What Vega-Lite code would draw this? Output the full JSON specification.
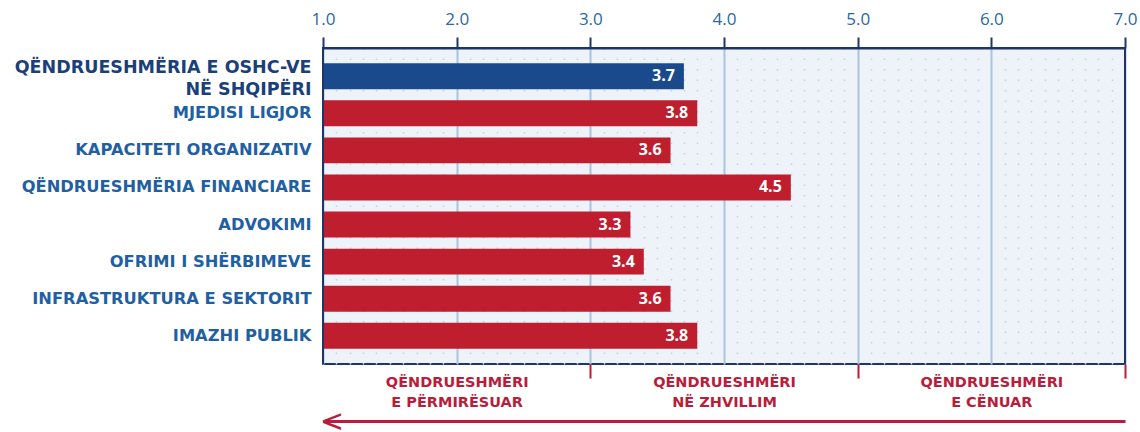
{
  "$schema": "https://vega.github.io/schema/vega-lite/v6.json",
  "width": 802,
  "height": 316,
  "autosize": {"type": "none"},
  "padding": {"left": 323, "top": 48, "right": 15, "bottom": 68},
  "background": "white",
  "config": {
    "view": {"fill": "#edf3f9", "stroke": "#1f3566", "strokeWidth": 2},
    "font": "Open Sans"
  },
  "data": {
    "values": [
      {"label": "QËNDRUESHMËRIA E OSHC-VE|NË SHQIPËRI", "value": 3.7, "type": "total"},
      {"label": "MJEDISI LIGJOR", "value": 3.8, "type": "dim"},
      {"label": "KAPACITETI ORGANIZATIV", "value": 3.6, "type": "dim"},
      {"label": "QËNDRUESHMËRIA FINANCIARE", "value": 4.5, "type": "dim"},
      {"label": "ADVOKIMI", "value": 3.3, "type": "dim"},
      {"label": "OFRIMI I SHËRBIMEVE", "value": 3.4, "type": "dim"},
      {"label": "INFRASTRUKTURA E SEKTORIT", "value": 3.6, "type": "dim"},
      {"label": "IMAZHI PUBLIK", "value": 3.8, "type": "dim"}
    ]
  },
  "resolve": {"axis": {"x": "independent"}},
  "layer": [
    {
      "mark": {"type": "bar"},
      "encoding": {
        "y": {
          "field": "label", "type": "nominal", "sort": null,
          "scale": {"paddingInner": 0.3, "paddingOuter": 0.41},
          "axis": {
            "title": null, "domain": false, "ticks": false, "grid": false,
            "labelPadding": 12, "labelFont": "DejaVu Sans", "labelFontWeight": "bold",
            "labelFontSize": {"condition": {"test": "indexof(datum.value, '|') >= 0", "value": 17.5}, "value": 16.3},
            "labelColor": {"condition": {"test": "indexof(datum.value, '|') >= 0", "value": "#1b3f7a"}, "value": "#1f60a3"},
            "labelOffset": {"condition": {"test": "indexof(datum.value, '|') >= 0", "value": -8}, "value": 0},
            "labelExpr": "split(datum.label, '|')",
            "labelLineHeight": 22, "labelLimit": 330
          }
        },
        "x": {
          "field": "value", "type": "quantitative",
          "scale": {"domain": [1, 7], "nice": false, "zero": false},
          "axis": {
            "orient": "top", "values": [1, 2, 3, 4, 5, 6, 7], "format": ".1f", "title": null,
            "domainColor": "#1f3566", "domainWidth": 2,
            "tickColor": "#1f3566", "tickWidth": 2, "tickSize": 11,
            "labelFont": "Open Sans", "labelFontSize": 17, "labelColor": "#2b67a3", "labelPadding": 9,
            "labelFlush": false, "labelOverlap": false,
            "grid": true, "gridColor": "#a9c4de", "gridWidth": 2
          }
        },
        "x2": {"datum": 1},
        "color": {
          "field": "type", "type": "nominal",
          "scale": {"domain": ["total", "dim"], "range": ["#1b4a8c", "#bf1e2e"]},
          "legend": null
        }
      }
    },
    {
      "mark": {"type": "text", "align": "right", "baseline": "middle", "dx": -9, "color": "white", "fontWeight": "bold", "fontSize": 16, "font": "Open Sans"},
      "encoding": {
        "y": {"field": "label", "type": "nominal", "sort": null},
        "x": {
          "field": "value", "type": "quantitative",
          "axis": {
            "orient": "bottom", "title": null, "domain": false, "ticks": false, "labels": false,
            "values": [1.1,1.2,1.3,1.4,1.5,1.6,1.7,1.8,1.9,2.1,2.2,2.3,2.4,2.5,2.6,2.7,2.8,2.9,3.1,3.2,3.3,3.4,3.5,3.6,3.7,3.8,3.9,4.1,4.2,4.3,4.4,4.5,4.6,4.7,4.8,4.9,5.1,5.2,5.3,5.4,5.5,5.6,5.7,5.8,5.9,6.1,6.2,6.3,6.4,6.5,6.6,6.7,6.8,6.9],
            "grid": true, "gridColor": "#c3d2e2", "gridWidth": 1.5, "gridDash": [1.5, 9]
          }
        },
        "text": {"field": "value", "type": "quantitative", "format": ".1f"}
      }
    },
    {
      "mark": {"type": "rule", "color": "#1f3566", "strokeWidth": 2},
      "encoding": {
        "x": {
          "datum": 1, "type": "quantitative",
          "axis": {
            "orient": "bottom", "title": null, "domain": false, "grid": false,
            "values": [2, 3, 4, 5, 6, 7],
            "ticks": true, "tickSize": 14, "tickWidth": 2,
            "tickColor": {"condition": {"test": "datum.value % 2 == 1", "value": "#b81d3b"}, "value": "transparent"},
            "labelExpr": "datum.value == 2 ? ['QËNDRUESHMËRI', 'E PËRMIRËSUAR'] : datum.value == 4 ? ['QËNDRUESHMËRI', 'NË ZHVILLIM'] : datum.value == 6 ? ['QËNDRUESHMËRI', 'E CËNUAR'] : ''",
            "labelColor": "#b81d3b", "labelFont": "DejaVu Sans", "labelFontSize": 14.5, "labelFontWeight": "bold",
            "labelLineHeight": 20, "labelPadding": -3, "labelBaseline": "top",
            "labelFlush": false, "labelOverlap": false, "labelBound": false
          }
        }
      }
    },
    {
      "mark": {"type": "rule", "color": "#1f3566", "strokeWidth": 2},
      "encoding": {
        "x": {
          "datum": 7, "type": "quantitative",
          "axis": {
            "orient": "bottom", "title": null, "offset": 57, "grid": false,
            "values": [1], "ticks": false,
            "domain": true, "domainColor": "#b81d3b", "domainWidth": 3,
            "labelExpr": "'V'", "labelFont": "DejaVu Sans", "labelFontSize": 25, "labelFontWeight": "normal",
            "labelAngle": 90,
            "labelColor": "#b81d3b", "labelBaseline": "middle", "labelAlign": "center",
            "labelPadding": 0, "labelOffset": 7,
            "labelFlush": false, "labelOverlap": false, "labelBound": false
          }
        }
      }
    }
  ]
}
